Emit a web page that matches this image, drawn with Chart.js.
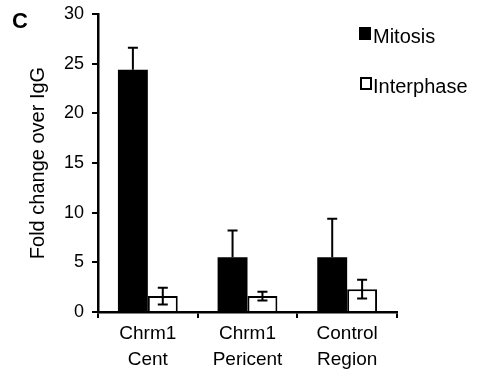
<!DOCTYPE html>
<html>
<head>
<meta charset="UTF-8">
<title>Fold change</title>
<script src="https://cdn.jsdelivr.net/npm/chart.js"></script>
<style>
  html, body { margin: 0; padding: 0; background: #fff; }
  #wrap { width: 477px; height: 377px; }
</style>
</head>
<body>
<div id="wrap"><canvas id="grafico" width="477" height="377"></canvas></div>
<script>
    // dados
    var categorias = [['Chrm1', 'Cent'], ['Chrm1', 'Pericent'], ['Control', 'Region']]
    var mitose = [24.4, 5.5, 5.5]
    var mitoseErro = [2.2, 2.7, 3.9]
    var interfase = [1.6, 1.6, 2.3]
    var interfaseErro = [0.85, 0.45, 0.95]
    var ticksY = [0, 5, 10, 15, 20, 25, 30]

    var fonte = 'Arial, "Liberation Sans", sans-serif'

    // barras de erro
    const errorBars = {
        id: 'errorBars',
        afterDatasetsDraw(chart) {
            const ctx = chart.ctx
            const y = chart.scales.y
            const erros = [mitoseErro, interfaseErro]
            ctx.save()
            ctx.strokeStyle = '#000'
            ctx.lineWidth = 2
            chart.data.datasets.forEach(function (ds, d) {
                const meta = chart.getDatasetMeta(d)
                meta.data.forEach(function (bar, i) {
                    const v = ds.data[i]
                    const e = erros[d][i]
                    const top = y.getPixelForValue(v + e)
                    const bot = d == 0 ? y.getPixelForValue(v) : y.getPixelForValue(v - e)
                    ctx.beginPath()
                    ctx.moveTo(bar.x, top)
                    ctx.lineTo(bar.x, bot)
                    ctx.moveTo(bar.x - 5, top)
                    ctx.lineTo(bar.x + 5, top)
                    if (d == 1) {
                        ctx.moveTo(bar.x - 5, bot)
                        ctx.lineTo(bar.x + 5, bot)
                    }
                    ctx.stroke()
                })
            })
            ctx.restore()
        }
    }

    // legenda e letra do painel
    const extras = {
        id: 'extras',
        afterDraw(chart) {
            const ctx = chart.ctx
            ctx.save()
            ctx.fillStyle = '#000'
            ctx.font = 'bold 22px ' + fonte
            ctx.textBaseline = 'alphabetic'
            ctx.fillText('C', 12, 28)

            ctx.font = '20px ' + fonte
            ctx.textBaseline = 'middle'
            chart.data.datasets.forEach(function (ds, d) {
                const yy = 34 + d * 50
                if (d == 0) {
                    ctx.fillRect(359, yy - 7, 12, 13)
                } else {
                    ctx.lineWidth = 2
                    ctx.strokeRect(361, yy - 6, 10, 11)
                }
                ctx.fillText(ds.label, 373, yy + 3)
            })
            ctx.restore()
        }
    }

    new Chart(document.getElementById('grafico'), {
        type: 'bar',
        data: {
            labels: categorias,
            datasets: [{
                label: 'Mitosis',
                data: mitose,
                backgroundColor: '#000',
                borderColor: '#000',
                borderWidth: 0,
                categoryPercentage: 0.6,
                barPercentage: 1
            }, {
                label: 'Interphase',
                data: interfase,
                backgroundColor: '#fff',
                borderColor: '#000',
                borderWidth: 2,
                borderSkipped: 'bottom',
                categoryPercentage: 0.6,
                barPercentage: 1
            }]
        },
        options: {
            responsive: false,
            animation: false,
            layout: { padding: { left: 0, right: 80, top: 14, bottom: 0 } },
            plugins: {
                legend: { display: false },
                tooltip: { enabled: false }
            },
            scales: {
                x: {
                    grid: { offset: true, drawOnChartArea: false, color: '#000', tickLength: 6, lineWidth: 2 },
                    border: { color: '#000', width: 2.5 },
                    ticks: { color: '#000', font: { family: fonte, size: 19, lineHeight: 1.4 }, padding: 2, maxRotation: 0 },
                    afterFit: function (s) { s.height = 65; s.paddingLeft = 0; s.paddingRight = 0 }
                },
                y: {
                    min: 0,
                    max: 30,
                    afterBuildTicks: function (s) { s.ticks = ticksY.map(v => ({ value: v })) },
                    grid: { drawOnChartArea: false, color: '#000', tickLength: 6, lineWidth: 2 },
                    border: { color: '#000', width: 2.5 },
                    ticks: { color: '#000', font: { family: fonte, size: 18 }, padding: 8 },
                    title: {
                        display: true,
                        text: 'Fold change over IgG',
                        color: '#000',
                        font: { family: fonte, size: 20 },
                        padding: { top: 26, bottom: 0 }
                    },
                    afterFit: function (s) { s.width = 98; s.paddingTop = 0; s.paddingBottom = 0 }
                }
            }
        },
        plugins: [errorBars, extras]
    })
</script>
</body>
</html>
